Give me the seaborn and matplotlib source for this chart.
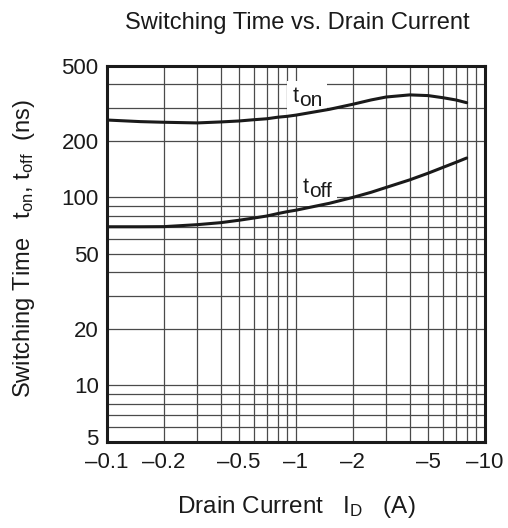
import numpy as np
import pandas as pd
import matplotlib
matplotlib.use("Agg")
import matplotlib.pyplot as plt
import matplotlib.transforms as mtransforms
import matplotlib.patches as mpatches
import seaborn as sns
from matplotlib.ticker import FixedLocator, NullFormatter

# values (drain current magnitude in A, time in ns)
ton_x = [0.1, 0.15, 0.2, 0.3, 0.4, 0.5, 0.6, 0.7, 0.8, 0.9, 1.0, 1.5, 2.0, 2.5, 3.0, 4.0, 5.0, 6.0, 7.0, 8.0]
ton_y = [258, 253, 251, 249, 252, 255, 259, 262, 267, 270, 274, 294, 313, 330, 342, 351, 348, 339, 330, 319]
toff_x = [0.1, 0.15, 0.2, 0.3, 0.4, 0.5, 0.6, 0.7, 0.8, 0.9, 1.0, 1.5, 2.0, 2.5, 3.0, 4.0, 5.0, 6.0, 7.0, 8.0]
toff_y = [69.8, 69.8, 69.9, 71.6, 73.4, 75.6, 77.7, 79.6, 82.0, 84.0, 85.5, 93, 100, 106.5, 113, 124, 134.5, 144.5, 153.5, 162]

x_ticks = [0.1, 0.2, 0.5, 1, 2, 5, 10]
x_ticklabels = ["\u20130.1", "\u20130.2", "\u20130.5", "\u20131", "\u20132", "\u20135", "\u201310"]
y_ticks = [5, 10, 20, 50, 100, 200, 500]
y_ticklabels = ["5", "10", "20", "50", "100", "200", "500"]

df = pd.concat([
    pd.DataFrame({"I": ton_x, "t": ton_y, "curve": "ton"}),
    pd.DataFrame({"I": toff_x, "t": toff_y, "curve": "toff"}),
])

sns.set_style("white")
plt.rcParams["font.family"] = ["Liberation Sans", "DejaVu Sans"]
plt.rcParams["mathtext.fontset"] = "custom"
plt.rcParams["mathtext.rm"] = "Liberation Sans"
plt.rcParams["mathtext.it"] = "Liberation Sans"

ink = "#1a1a1a"
fig = plt.figure(figsize=(5.08, 5.28), dpi=100)
ax = fig.add_axes([0.2106, 0.1629, 0.7441, 0.7121])

ax.set_xscale("log")
ax.set_yscale("log")
ax.set_xlim(0.1, 10)
ax.set_ylim(5, 500)

# dense log grid like the datasheet paper
grid_x = [m * 10.0 ** e for e in (-1, 0) for m in range(2, 10)] + [1.0]
grid_y = [m * 10.0 ** e for e in (0, 1, 2) for m in range(1, 10)]
for gx in grid_x:
    ax.axvline(gx, color="#4a4a4a", lw=0.9, zorder=1)
for gy in grid_y:
    if 5 < gy < 500:
        ax.axhline(gy, color="#4a4a4a", lw=0.9, zorder=1)

sns.lineplot(data=df, x="I", y="t", hue="curve", palette=[ink, ink],
             linewidth=2.2, legend=False, ax=ax, zorder=3, sort=False)

ax.xaxis.set_major_locator(FixedLocator(x_ticks))
ax.xaxis.set_minor_locator(FixedLocator([]))
ax.xaxis.set_minor_formatter(NullFormatter())
ax.set_xticklabels(x_ticklabels)
ax.yaxis.set_major_locator(FixedLocator(y_ticks))
ax.yaxis.set_minor_locator(FixedLocator([]))
ax.yaxis.set_minor_formatter(NullFormatter())
ax.set_yticklabels(y_ticklabels)
ax.tick_params(length=0, labelsize=16, colors=ink)
ax.tick_params(axis="x", pad=7)
ax.tick_params(axis="y", pad=6)
ax.set_xlabel("")
ax.set_ylabel("")

# the "5" sits a little above the corner in the reference
lab5 = ax.get_yticklabels()[0]
lab5.set_transform(lab5.get_transform() + mtransforms.ScaledTranslation(0, 0.05, fig.dpi_scale_trans))

for s in ax.spines.values():
    s.set_linewidth(2.2)
    s.set_color(ink)


def curve_label(x, y, sub):
    # datasheet style: subscript almost as big as the "t", only dropped a bit
    base = ax.text(x, y, "t", fontsize=15.5, ha="left", va="baseline",
                   color=ink, zorder=2.5)
    subt = ax.annotate(sub, xy=(1, 0), xycoords=base, xytext=(0.3, -2),
                       textcoords="offset points", fontsize=15, ha="left", va="bottom",
                       color=ink, zorder=2.5)
    return base, subt


labels = [curve_label(0.958, 322, "on"), curve_label(1.083, 105.6, "off")]

# white patch behind each label so the grid is broken there
fig.canvas.draw()
r = fig.canvas.get_renderer()
for base, subt in labels:
    bb = mtransforms.Bbox.union([base.get_window_extent(r), subt.get_window_extent(r)])
    bb = bb.expanded(1.0, 1.0).padded(5)
    bb = bb.transformed(ax.transAxes.inverted())
    ax.add_patch(mpatches.Rectangle((bb.x0, bb.y0), bb.width, bb.height,
                                    transform=ax.transAxes, facecolor="white",
                                    edgecolor="none", zorder=2))

fig.text(0.585, 0.957, "Switching Time vs. Drain Current", fontsize=17,
         ha="center", va="center", color=ink)
fig.text(0.584, 0.040, r"Drain Current   $\mathregular{I_D}$   (A)", fontsize=17.5,
         ha="center", va="center", color=ink)
fig.text(0.047, 0.530, r"Switching Time   $\mathregular{t_{on}}$, $\mathregular{t_{off}}$  (ns)",
         fontsize=17, ha="center", va="center", rotation=90, color=ink)

fig.savefig("out.png", dpi=100)
